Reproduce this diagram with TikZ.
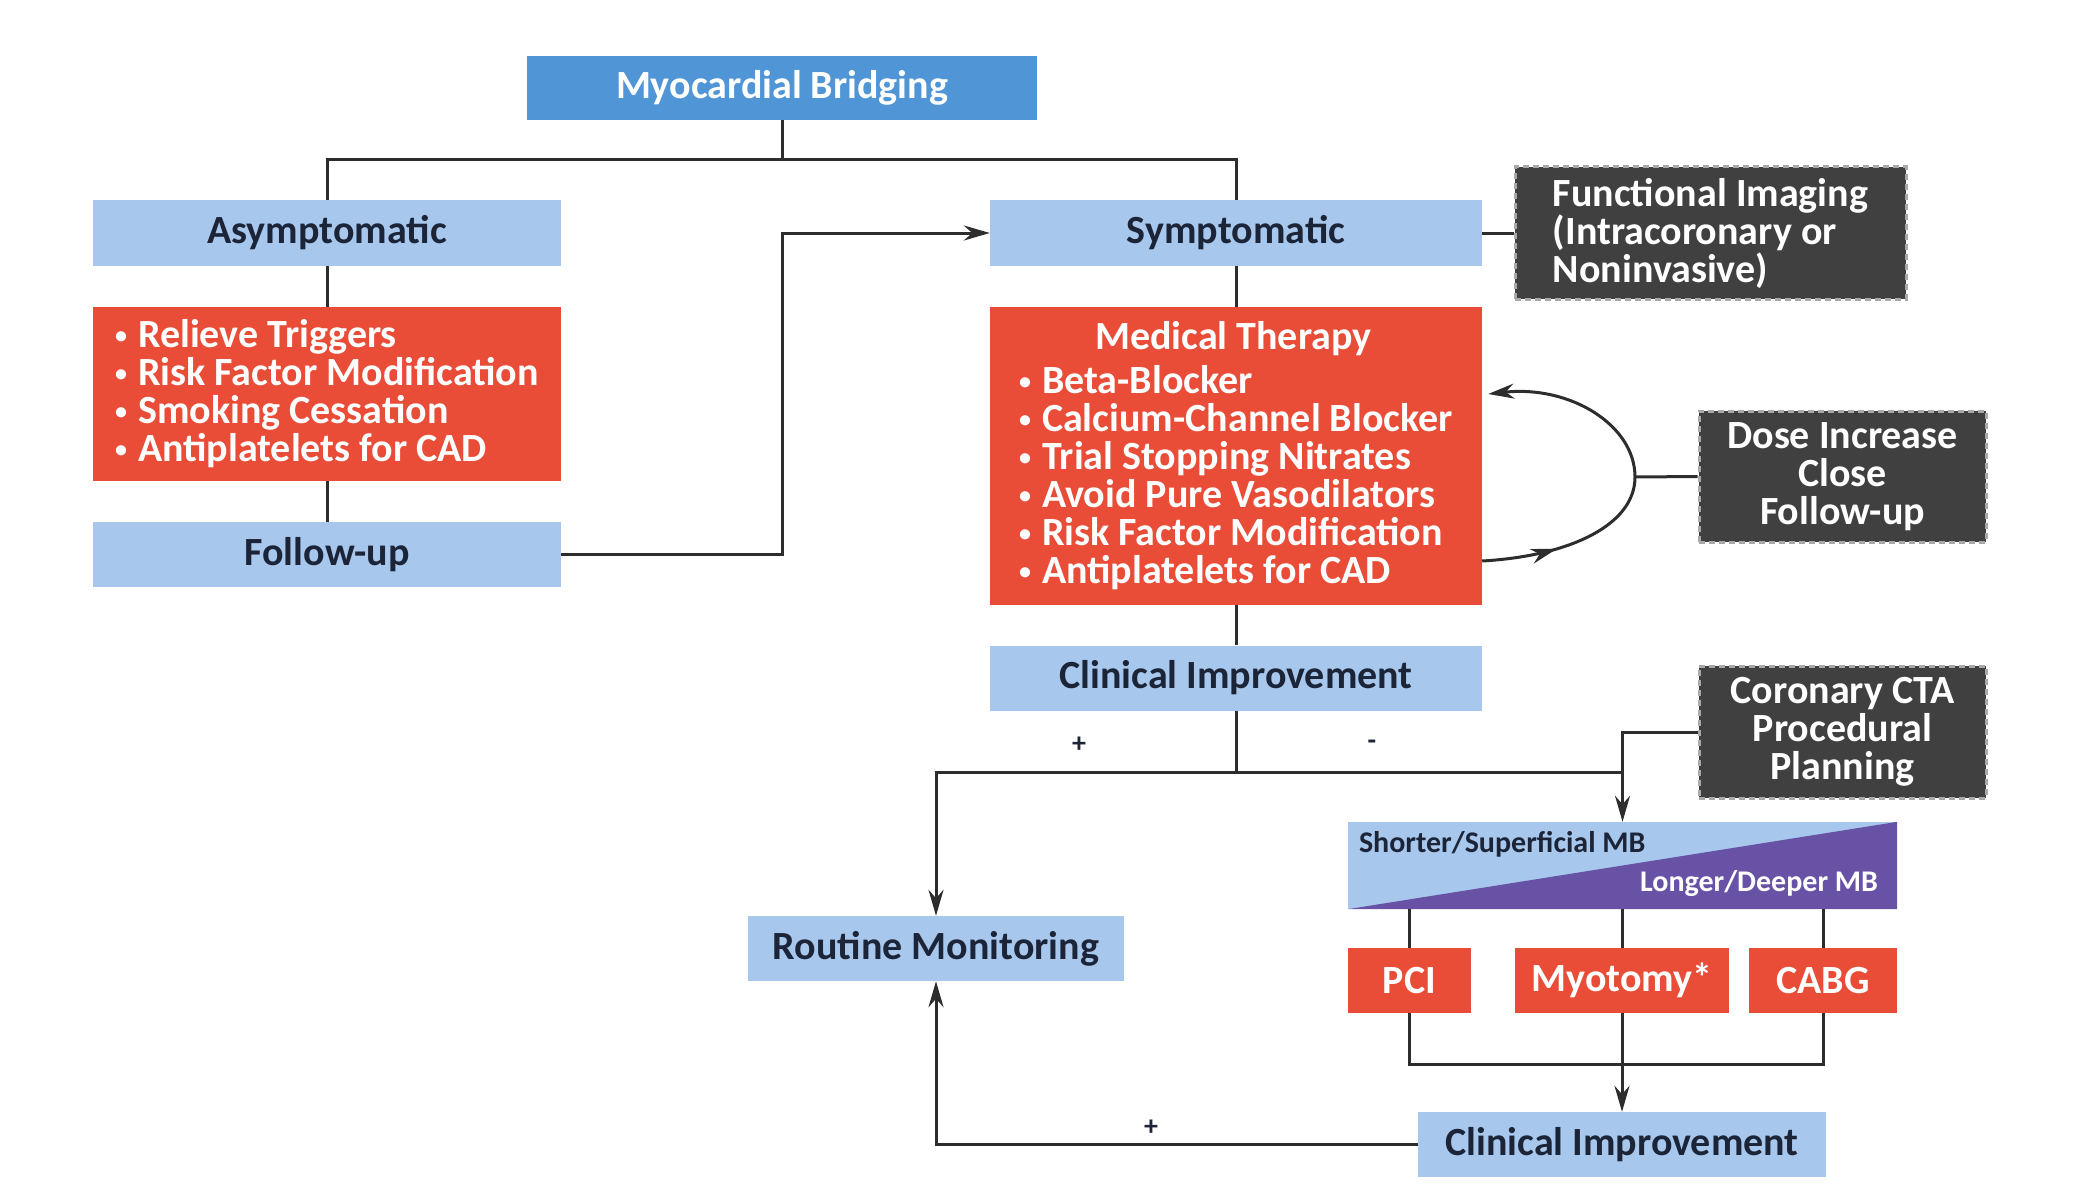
\documentclass[tikz,border=0pt]{standalone}
\usepackage{fontspec}
\setmainfont{Carlito}
\usetikzlibrary{arrows.meta,calc,positioning,decorations.markings}
\definecolor{mbblue}{RGB}{80,150,215}
\definecolor{paleblue}{RGB}{168,199,236}
\definecolor{therapyred}{RGB}{233,76,55}
\definecolor{notegray}{RGB}{64,64,64}
\definecolor{deeppurple}{RGB}{104,82,166}
\definecolor{inkblue}{RGB}{28,36,56}
\definecolor{linegray}{RGB}{45,45,45}
\newcommand{\bul}{\raisebox{0.12em}{\scalebox{0.6}{•}}\hspace{11pt}}

\begin{document}
\begin{tikzpicture}[x=1pt, y=-1pt, >={Stealth[length=26pt,width=15pt]},
    every node/.style={font=\bfseries\fontsize{40}{38}\selectfont, inner sep=0pt},
    head/.style={fill=mbblue, text=white, minimum width=510pt, minimum height=64pt},
    phase/.style={fill=paleblue, text=inkblue, minimum height=65pt},
    therapy/.style={fill=therapyred, text=white, align=left},
    proc/.style={fill=therapyred, text=white, minimum height=65pt},
    note/.style={fill=notegray, text=white, draw=notegray!45!white, dash pattern=on 6pt off 4pt, line width=3pt},
    sign/.style={text=inkblue, font=\bfseries\fontsize{28}{28}\selectfont},
    conn/.style={draw=linegray, line width=3pt}]
    \useasboundingbox (0,0) rectangle (2093,1201);

    % top of the tree
    \node[head] (mb) at (782,88) {Myocardial Bridging};
    \coordinate (fork) at (782,160);

    % asymptomatic branch
    \node[phase, minimum width=468pt] (asym) at (327,233) {Asymptomatic};
    \node[therapy, minimum width=468pt, minimum height=174pt] (asymtx) at (327,394)
        {\bul Relieve Triggers\\\bul Risk Factor Modification\\\bul Smoking Cessation\\\bul Antiplatelets for CAD};
    \node[phase, minimum width=468pt] (fu) at (327,554.5) {Follow-up};
    \coordinate (jog) at (782,400);

    % symptomatic branch
    \node[phase, minimum width=492pt] (sym) at (1236,233) {Symptomatic};
    \node[note, minimum width=391pt, minimum height=132pt, align=left] (func) at (1710.5,233)
        {Functional Imaging\\(Intracoronary or\\Noninvasive)};
    \node[therapy, minimum width=492pt, minimum height=298pt] (med) at (1236,456)
        {\hspace*{76pt}Medical Therapy\\[6pt]\bul Beta-Blocker\\\bul Calcium-Channel Blocker\\\bul Trial Stopping Nitrates\\\bul Avoid Pure Vasodilators\\\bul Risk Factor Modification\\\bul Antiplatelets for CAD};
    \node[note, minimum width=287pt, minimum height=131pt, align=center] (dose) at (1842.5,476.5)
        {Dose Increase\\Close\\Follow-up};
    \coordinate (loopR) at (1635,477);

    \node[phase, minimum width=492pt] (ci1) at (1236,678) {Clinical Improvement};
    \coordinate (tee) at (1236,772);
    \coordinate (drop) at (1622,772);
    \node[note, minimum width=287pt, minimum height=132pt, align=center] (cta) at (1842.5,732)
        {Coronary CTA\\Procedural\\Planning};

    % depth of the bridge
    \node[fill=paleblue, minimum width=549pt, minimum height=87pt] (mbgrad) at (1622.5,865.5) {};
    \fill[deeppurple] (mbgrad.south west) -- (mbgrad.north east) -- (mbgrad.south east) -- cycle;
    \node[anchor=north west, text=inkblue, font=\bfseries\fontsize{30}{30}\selectfont] (shorter) at ($(mbgrad.north west)+(11,9)$) {Shorter/Superficial MB};
    \node[anchor=south east, text=white, font=\bfseries\fontsize{30}{30}\selectfont] (longer) at ($(mbgrad.south east)+(-19,-12)$) {Longer/Deeper MB};

    \node[proc, minimum width=123pt] (pci) at (1409.5,980.5) {PCI};
    \node[proc, minimum width=214pt] (myo) at (1622,980.5) {Myotomy*};
    \node[proc, minimum width=148pt] (cabg) at (1823,980.5) {CABG};
    \coordinate (join) at (1622,1064);
    \node[phase, minimum width=408pt] (ci2) at (1622,1144.5) {Clinical Improvement};
    \node[phase, minimum width=376pt] (rm) at (936,948.5) {Routine Monitoring};

    % connectors
    \draw[conn] (mb.south) -- (fork);
    \draw[conn] (asym.north) |- (fork) -| (sym.north);
    \draw[conn] (asym.south) -- (asymtx.north);
    \draw[conn] (asymtx.south) -- (fu.north);
    \draw[conn,->] (fu.east) -| (jog) |- (sym.west);
    \draw[conn] (sym.south) -- (med.north);
    \draw[conn] (sym.east) -- (func.west);
    \draw[conn,->, postaction={decorate}, decoration={markings, mark=at position 0.2 with {\arrow{Stealth[length=26pt,width=15pt]}}}]
        ($(med.east)+(0,105)$) .. controls (1570,556) and (1635,525) .. (loopR)
        .. controls (1635,425) and (1570,385) .. ($(med.east)+(6,-62)$);
    \draw[conn] (loopR) -- (dose.west);
    \draw[conn] (med.south) -- (ci1.north);
    \draw[conn] (ci1.south) -- (tee);
    \draw[conn,->] (tee) -| (rm.north);
    \draw[conn,->] (tee) -| (mbgrad.north);
    \draw[conn] (cta.west) -| (drop);
    \draw[conn] (pci.north) -- (pci.north |- mbgrad.south);
    \draw[conn] (myo.north) -- (myo.north |- mbgrad.south);
    \draw[conn] (cabg.north) -- (cabg.north |- mbgrad.south);
    \draw[conn] (pci.south) |- (join) -| (cabg.south);
    \draw[conn,->] (myo.south) -- (ci2.north);
    \draw[conn,->] (ci2.west) -| (rm.south);

    % outcome signs
    \node[sign] (plusA) at (1079,745) {+};
    \node[sign] (minusA) at (1372,745) {-};
    \node[sign] (plusB) at (1151,1128) {+};
\end{tikzpicture}
\end{document}
